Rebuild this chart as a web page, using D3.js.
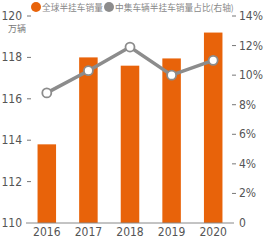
<!DOCTYPE html>
<head>
<meta charset="utf-8">
<script src="https://d3js.org/d3.v7.min.js"></script>
</head>
<style>
body { margin: 0; background: #fff; }
text { font-family: "Liberation Sans Narrow", "DejaVu Sans Condensed", sans-serif; }
.legend text { font-family: "Noto Sans CJK SC", sans-serif; }
</style>
<body>
<script>
var years = ["2016", "2017", "2018", "2019", "2020"];
var sales = [113.8, 118.0, 117.6, 117.95, 119.2];
var share = [8.8, 10.3, 11.9, 10.0, 11.0];
var leftTicks = [110, 112, 114, 116, 118, 120];
var rightTicks = [0, 2, 4, 6, 8, 10, 12, 14];

var width = 268, height = 240;
var x0 = 26, x1 = 234, yTop = 16, yBot = 223;

var svg = d3.select("body").append("svg")
    .attr("width", width)
    .attr("height", height);

var x = d3.scaleBand().domain(years).range([x0, x1]).paddingInner(0.555).paddingOuter(0.2775);
var y = d3.scaleLinear().domain([110, 120]).range([yBot, yTop]);
var y2 = d3.scaleLinear().domain([0, 14]).range([yBot, yTop]);

// bars
svg.selectAll(".bar")
    .data(sales)
  .enter().append("rect")
    .attr("x", function(d, i) { return x(years[i]); })
    .attr("width", x.bandwidth())
    .attr("y", function(d) { return y(d); })
    .attr("height", function(d) { return yBot - y(d); })
    .attr("fill", "#e8630a");

// bottom axis line
svg.append("line")
    .attr("x1", x0).attr("x2", x1)
    .attr("y1", yBot).attr("y2", yBot)
    .attr("stroke", "#888").attr("stroke-width", 1);

// left axis
var gl = svg.append("g");
leftTicks.forEach(function(t) {
  gl.append("text")
    .attr("x", 22).attr("y", y(t) + 4)
    .attr("text-anchor", "end")
    .attr("font-size", 12).attr("fill", "#555")
    .text(t);
  if (t !== 110) {
    gl.append("line")
      .attr("x1", 27).attr("x2", 31)
      .attr("y1", y(t)).attr("y2", y(t))
      .attr("stroke", "#777");
  }
});
svg.append("text")
    .attr("x", 8).attr("y", 32)
    .attr("font-size", 9).attr("fill", "#777")
    .style("font-family", "'Noto Sans CJK SC', sans-serif")
    .text("万辆");

// right axis
var gr = svg.append("g");
rightTicks.forEach(function(t) {
  gr.append("text")
    .attr("x", 239).attr("y", y2(t) + 4)
    .attr("font-size", 12).attr("fill", "#555")
    .text(t === 0 ? "0" : t + "%");
  if (t !== 0) {
    gr.append("line")
      .attr("x1", 232).attr("x2", 236)
      .attr("y1", y2(t)).attr("y2", y2(t))
      .attr("stroke", "#777");
  }
});

// x labels
svg.selectAll(".xl")
    .data(years)
  .enter().append("text")
    .attr("x", function(d) { return x(d) + x.bandwidth() / 2; })
    .attr("y", 236)
    .attr("text-anchor", "middle")
    .attr("font-size", 12).attr("fill", "#555")
    .text(function(d) { return d; });

// line
var line = d3.line()
    .x(function(d, i) { return x(years[i]) + x.bandwidth() / 2; })
    .y(function(d) { return y2(d); });
svg.append("path")
    .datum(share)
    .attr("d", line)
    .attr("fill", "none")
    .attr("stroke", "#8c8c8c")
    .attr("stroke-width", 3.5);
svg.selectAll(".pt")
    .data(share)
  .enter().append("circle")
    .attr("cx", function(d, i) { return x(years[i]) + x.bandwidth() / 2; })
    .attr("cy", function(d) { return y2(d); })
    .attr("r", 4.5)
    .attr("fill", "#fff")
    .attr("stroke", "#8c8c8c")
    .attr("stroke-width", 1.8);

// legend
var lg = svg.append("g").attr("class", "legend");
lg.append("circle").attr("cx", 36).attr("cy", 7).attr("r", 5).attr("fill", "#e8630a");
lg.append("text").attr("x", 42).attr("y", 10.5).attr("font-size", 8.7).attr("fill", "#888").text("全球半挂车销量");
lg.append("circle").attr("cx", 109).attr("cy", 7).attr("r", 5).attr("fill", "#8c8c8c");
lg.append("text").attr("x", 115).attr("y", 10.5).attr("font-size", 8.7).attr("fill", "#888").text("中集车辆半挂车销量占比(右轴)");
</script>
</body>
